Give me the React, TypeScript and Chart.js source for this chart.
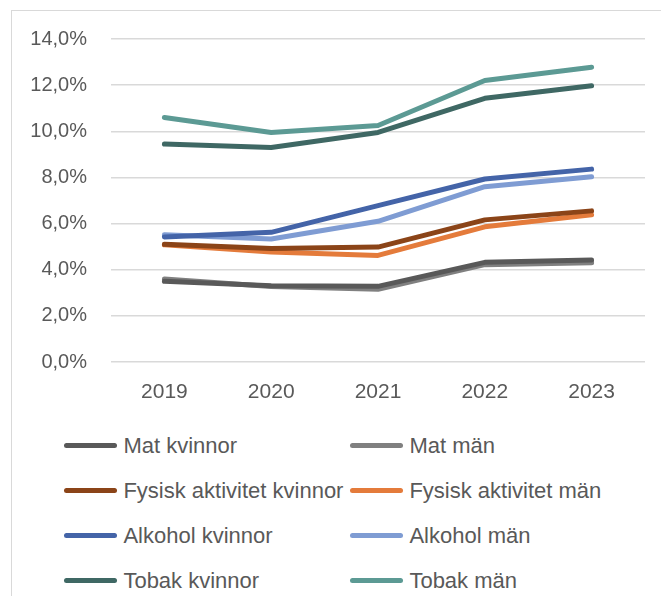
import React, { useEffect, useRef } from "react";
import { Chart, registerables } from "chart.js";

Chart.register(...registerables);

const years = ["2019", "2020", "2021", "2022", "2023"];
const yTickValues = [0, 2, 4, 6, 8, 10, 12, 14];

const seriesNames = [
  "Mat kvinnor",
  "Mat män",
  "Fysisk aktivitet kvinnor",
  "Fysisk aktivitet män",
  "Alkohol kvinnor",
  "Alkohol män",
  "Tobak kvinnor",
  "Tobak män",
];

const matKvinnor = [3.5, 3.3, 3.28, 4.32, 4.42];
const matMan = [3.6, 3.27, 3.15, 4.22, 4.3];
const fysiskKvinnor = [5.1, 4.92, 4.98, 6.16, 6.55];
const fysiskMan = [5.08, 4.77, 4.62, 5.86, 6.38];
const alkoholKvinnor = [5.42, 5.62, 6.78, 7.93, 8.36];
const alkoholMan = [5.52, 5.33, 6.1, 7.6, 8.03];
const tobakKvinnor = [9.45, 9.3, 9.95, 11.43, 11.97];
const tobakMan = [10.6, 9.95, 10.25, 12.2, 12.78];

const seriesValues = [
  matKvinnor,
  matMan,
  fysiskKvinnor,
  fysiskMan,
  alkoholKvinnor,
  alkoholMan,
  tobakKvinnor,
  tobakMan,
];

const seriesColors = [
  "#595959",
  "#808080",
  "#8b4418",
  "#e47b3b",
  "#4464a8",
  "#7f9cd3",
  "#3f6864",
  "#5c9a94",
];

const FONT = "'Liberation Sans', Arial, sans-serif";
const TEXT = "#595959";

export default function App() {
  const canvasRef = useRef<HTMLCanvasElement | null>(null);

  useEffect(() => {
    if (!canvasRef.current) return;
    const chart = new Chart(canvasRef.current, {
      type: "line",
      data: {
        labels: years,
        datasets: seriesNames.map((name, i) => ({
          label: name,
          data: seriesValues[i],
          borderColor: seriesColors[i],
          backgroundColor: seriesColors[i],
          borderWidth: 5,
          borderCapStyle: "round",
          borderJoinStyle: "round",
          pointRadius: 0,
          pointHoverRadius: 0,
          tension: 0,
          fill: false,
        })),
      },
      options: {
        animation: false,
        responsive: false,
        devicePixelRatio: 1,
        layout: { padding: { top: 28, right: 17, bottom: 0, left: 0 } },
        plugins: {
          legend: { display: false },
          tooltip: { enabled: false },
        },
        scales: {
          x: {
            offset: true,
            grid: { display: false, drawTicks: false },
            border: { display: false },
            ticks: {
              color: TEXT,
              font: { family: FONT, size: 21 },
              padding: 18,
              maxRotation: 0,
            },
            afterFit: (s: any) => {
              s.height = 59;
            },
          },
          y: {
            min: 0,
            max: 14,
            grid: {
              color: "#d9d9d9",
              lineWidth: 1.5,
              drawTicks: true,
              tickLength: 24,
              tickColor: "rgba(0,0,0,0)",
            },
            border: { display: false },
            afterBuildTicks: (s: any) => {
              s.ticks = yTickValues.map((v) => ({ value: v }));
            },
            ticks: {
              color: TEXT,
              font: { family: FONT, size: 20 },
              padding: 0,
              callback: (v: any) => Number(v).toFixed(1).replace(".", ",") + "%",
            },
            afterFit: (s: any) => {
              s.width = 99;
            },
          },
        },
      } as any,
    });
    return () => chart.destroy();
  }, []);

  return (
    <div
      style={{
        position: "relative",
        marginTop: 2,
        marginLeft: 3,
        borderTop: "1px solid #d9d9d9",
        borderLeft: "1px solid #d9d9d9",
        width: 650,
        height: 585,
        fontFamily: FONT,
      }}
    >
      <canvas
        ref={canvasRef}
        width={650}
        height={410}
        style={{ display: "block", width: 650, height: 410 }}
      />
      <div
        style={{
          position: "absolute",
          left: 52,
          top: 412,
          display: "grid",
          gridTemplateColumns: "286px 286px",
          gridAutoRows: "45px",
        }}
      >
        {seriesNames.map((name, i) => (
          <div
            key={name}
            style={{ display: "flex", alignItems: "center", whiteSpace: "nowrap" }}
          >
            <div
              style={{
                width: 53,
                height: 5,
                borderRadius: 3,
                background: seriesColors[i],
                marginRight: 6.4,
                flex: "none",
              }}
            />
            <span style={{ fontSize: 22, color: TEXT, lineHeight: 1 }}>{name}</span>
          </div>
        ))}
      </div>
    </div>
  );
}
